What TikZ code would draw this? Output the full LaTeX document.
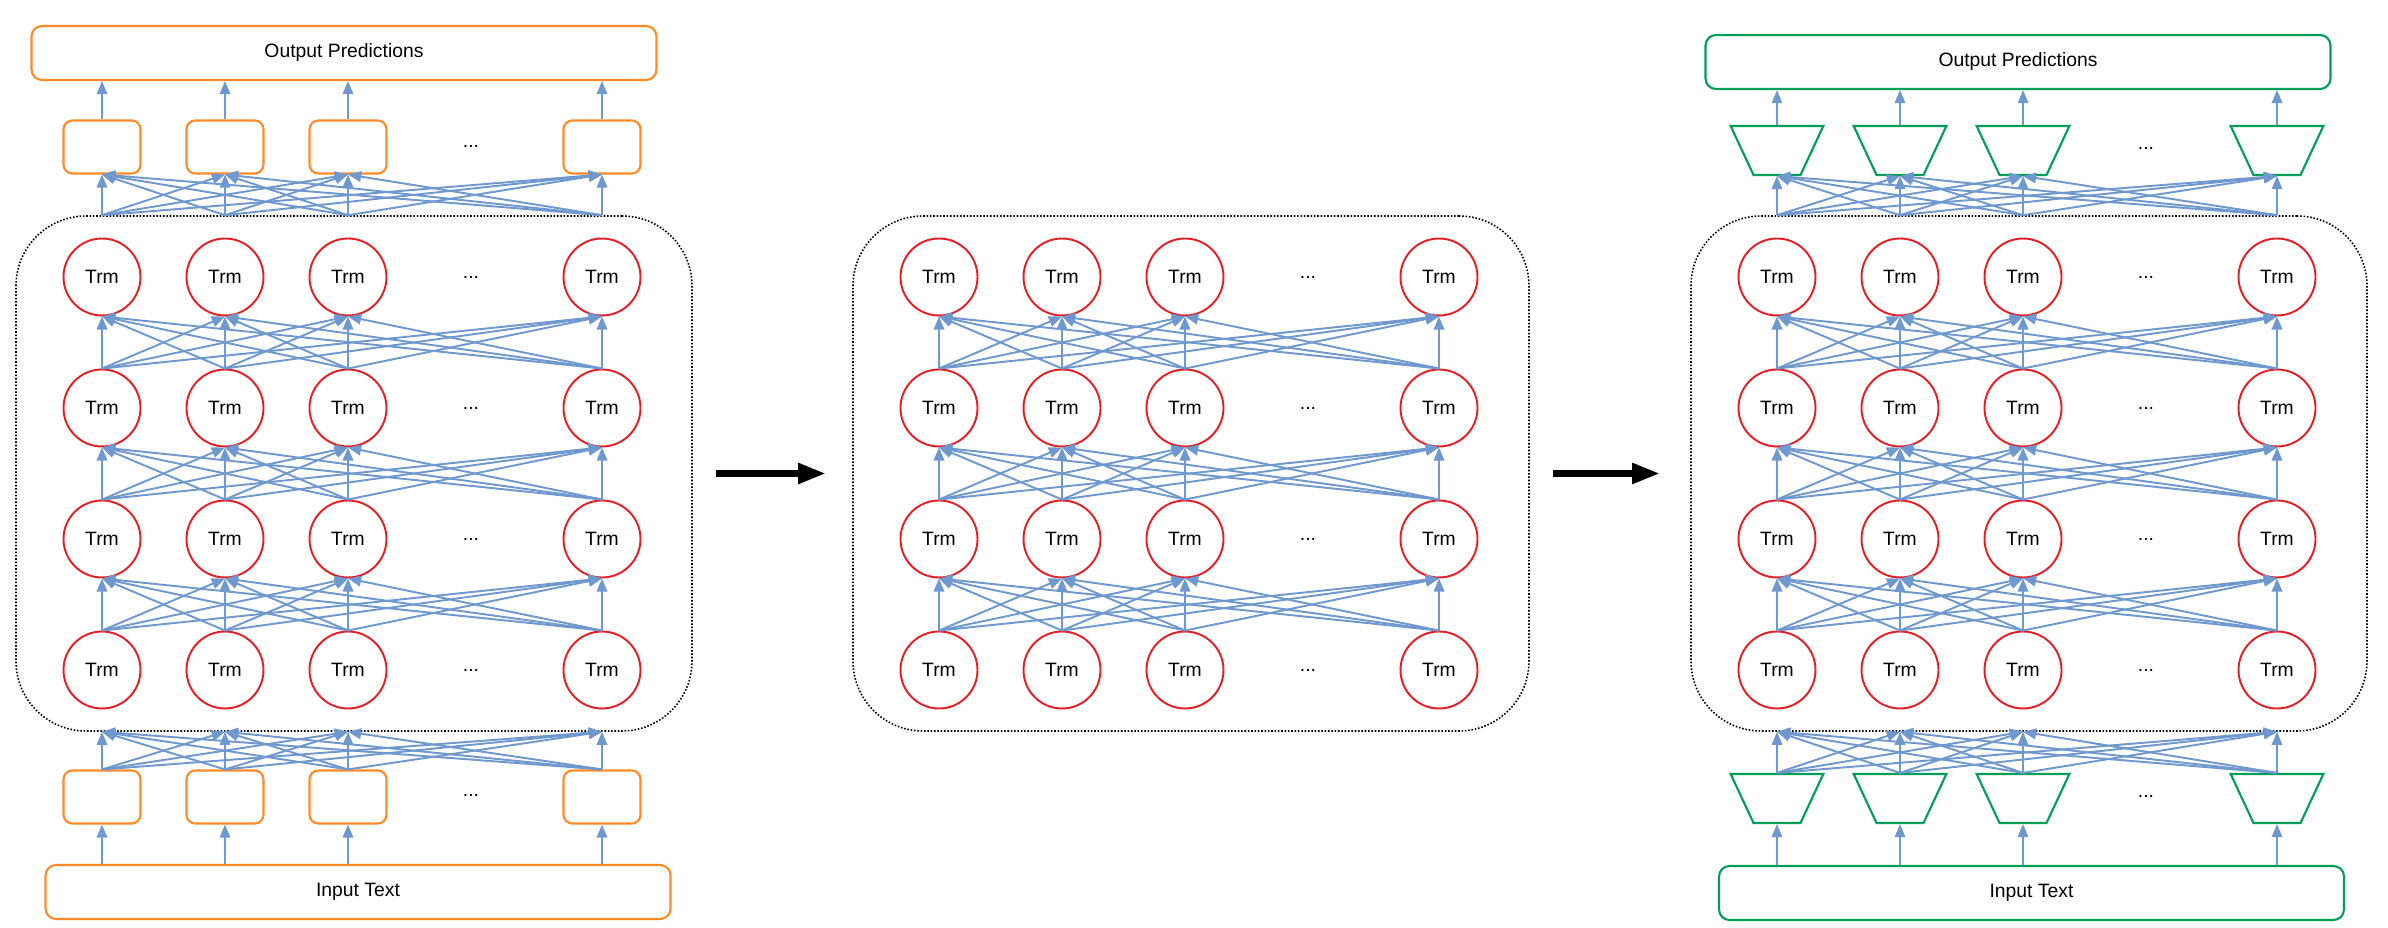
\documentclass[tikz,border=0pt]{standalone}
\usepackage{fontspec}
\setmainfont{Liberation Sans}
\usepackage{tikz}
\usetikzlibrary{arrows.meta,shapes.geometric,calc}
\definecolor{trmred}{RGB}{229,30,37}
\definecolor{linkblue}{RGB}{110,152,206}
\definecolor{preorange}{RGB}{255,138,40}
\definecolor{tunegreen}{RGB}{0,158,86}

\begin{document}
\begin{tikzpicture}[
  every node/.style = {font=\fontsize{11}{13}\selectfont},
  trm/.style = {circle, draw=trmred, line width=1.1pt, minimum size=1.54cm, inner sep=0pt},
  link/.style = {linkblue, line width=1.1pt, -{Triangle[length=7.5pt, width=6pt]}},
  emb/.style = {draw=preorange, line width=1.2pt, rounded corners=5pt,
    minimum width=1.54cm, minimum height=1.06cm},
  head/.style = {trapezium, trapezium left angle=65, trapezium right angle=65,
    shape border rotate=180, draw=tunegreen, line width=1.2pt,
    inner xsep=0.47cm, inner ysep=0.49cm},
  textbox/.style = {draw=#1, line width=1.2pt, rounded corners=6pt,
    minimum width=12.5cm, minimum height=1.08cm},
  stack/.style = {draw, densely dotted, line width=0.9pt, rounded corners=1.4cm,
    minimum width=13.52cm, minimum height=10.3cm},
  handover/.style = {black, line width=4pt, -{Triangle[length=16pt, width=11pt]}}]
  \useasboundingbox (0,0) rectangle (47.76,18.56);

  \foreach \p/\x in {L/2.04, M/18.78, R/35.54} {
    \node[stack] (\p-stack) at (\x+5.04, 9.09) {};
    \foreach \r/\y in {1/5.16, 2/7.78, 3/10.40, 4/13.02} {
      \foreach \i/\dx in {1/0, 2/2.46, 3/4.92, 4/10}
        \node[trm] (\p-\r-\i) at (\x+\dx, \y) {Trm};
      \node (\p-\r-dots) at (\x+7.38, \y) {...};
    }
    \foreach \r [evaluate=\r as \s using int(\r+1)] in {1,2,3}
      \foreach \i in {1,...,4}
        \foreach \j in {1,...,4}
          \draw[link] (\p-\r-\i.north) -- (\p-\s-\j.south);
  }

  \node[textbox=preorange] (L-pred) at (6.88, 17.5) {Output Predictions};
  \node[textbox=preorange] (L-input) at (7.16, 0.72) {Input Text};
  \foreach \i/\dx in {1/0, 2/2.46, 3/4.92, 4/10} {
    \node[emb] (L-out-\i) at (2.04+\dx, 15.62) {};
    \node[emb] (L-in-\i) at (2.04+\dx, 2.62) {};
    \draw[link] (L-out-\i.north) -- (L-out-\i.north |- L-pred.south);
    \draw[link] (L-in-\i.south |- L-input.north) -- (L-in-\i.south);
  }
  \node (L-out-dots) at (9.42, 15.64) {...};
  \node (L-in-dots) at (9.42, 2.66) {...};
  \foreach \i in {1,...,4}
    \foreach \j in {1,...,4} {
      \draw[link] (L-4-\i |- L-stack.north) -- (L-out-\j.south);
      \draw[link] (L-in-\i.north) -- (L-1-\j |- L-stack.south);
    }

  \node[textbox=tunegreen] (R-pred) at (40.36, 17.32) {Output Predictions};
  \node[textbox=tunegreen] (R-input) at (40.63, 0.70) {Input Text};
  \foreach \i/\dx in {1/0, 2/2.46, 3/4.92, 4/10} {
    \node[head] (R-out-\i) at (35.54+\dx, 15.55) {};
    \node[head] (R-in-\i) at (35.54+\dx, 2.59) {};
    \draw[link] (R-out-\i.north) -- (R-out-\i.north |- R-pred.south);
    \draw[link] (R-in-\i.south |- R-input.north) -- (R-in-\i.south);
  }
  \node (R-out-dots) at (42.92, 15.6) {...};
  \node (R-in-dots) at (42.92, 2.64) {...};
  \foreach \i in {1,...,4}
    \foreach \j in {1,...,4} {
      \draw[link] (R-4-\i |- R-stack.north) -- (R-out-\j.south);
      \draw[link] (R-in-\i.north) -- (R-1-\j |- R-stack.south);
    }

  \draw[handover, shorten <=0.46cm, shorten >=0.52cm] (L-stack.east) -- (M-stack.west);
  \draw[handover, shorten <=0.46cm, shorten >=0.6cm] (M-stack.east) -- (R-stack.west);
\end{tikzpicture}
\end{document}
